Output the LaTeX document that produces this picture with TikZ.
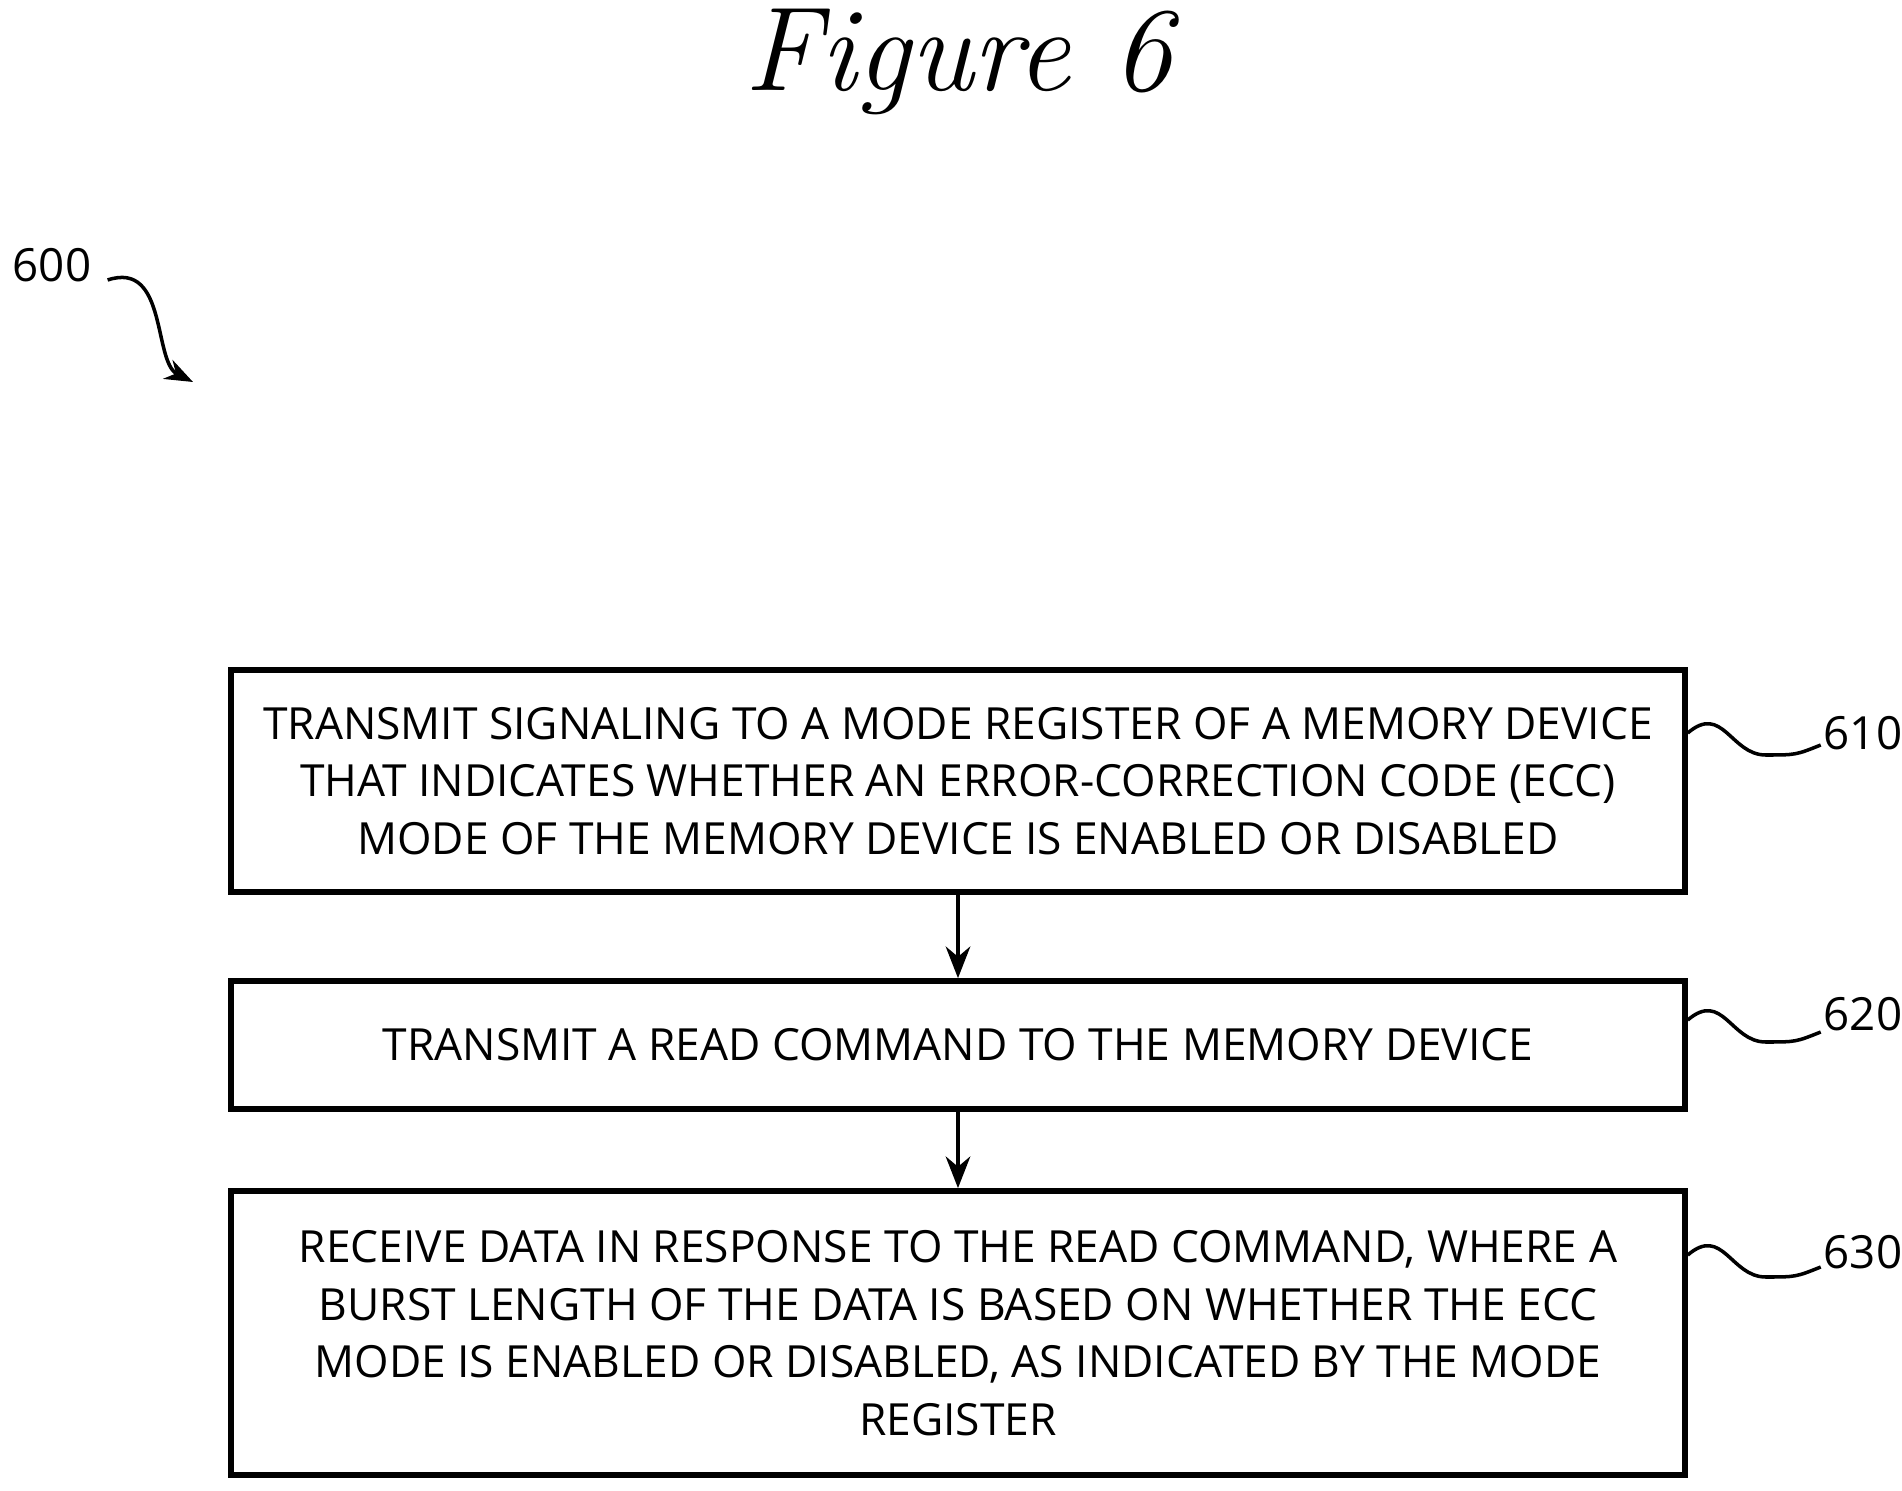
\documentclass[tikz,border=0pt]{standalone}
\usepackage{fontspec}
\setmainfont{Open Sans}
\newfontfamily\titlefont{Latin Modern Roman}
\usetikzlibrary{arrows.meta}
\begin{document}
\begin{tikzpicture}[x=0.01cm,y=-0.01cm,
  stepbox/.style={draw=black,line width=1.6pt,minimum width=14.53cm,align=center,font=\fontsize{12.6}{16.4}\selectfont,inner sep=0pt},
  flow/.style={draw=black,line width=1pt,-{Stealth[length=9pt,width=7pt]}},
  lead/.style={draw=black,line width=1pt},
  refnum/.style={font=\fontsize{13}{16}\selectfont}]

\useasboundingbox (0,0) rectangle (1902,1491);

\node (title) at (958,62) {\titlefont\itshape\fontsize{34}{34}\selectfont Figure 6};

%600
\node[refnum] (l600) at (52,265) {600};
\coordinate (a600) at (193,382);
\draw[lead,-{Stealth[length=8pt,width=6pt]}] (l600.east) ++(4,15) .. controls +(60,-20) and +(-40,-20) .. (a600);

%610
\node[stepbox,minimum height=2.22cm] (s610) at (958,781) {TRANSMIT SIGNALING TO A MODE REGISTER OF A MEMORY DEVICE\\THAT INDICATES WHETHER AN ERROR-CORRECTION CODE (ECC)\\MODE OF THE MEMORY DEVICE IS ENABLED OR DISABLED};
\node[refnum] (l610) at (1863,733) {610};
\draw[lead] (s610.east) ++(0,-48) .. controls +(35,-30) and +(-35,0) .. ++(78,22) .. controls +(30,0) .. ++(55,-10);

%620
\node[stepbox,minimum height=1.28cm] (s620) at (958,1045) {TRANSMIT A READ COMMAND TO THE MEMORY DEVICE};
\node[refnum] (l620) at (1863,1014) {620};
\draw[lead] (s620.east) ++(0,-25) .. controls +(35,-30) and +(-35,0) .. ++(78,22) .. controls +(30,0) .. ++(55,-10);

%630
\node[stepbox,minimum height=2.84cm] (s630) at (958,1333) {RECEIVE DATA IN RESPONSE TO THE READ COMMAND, WHERE A\\BURST LENGTH OF THE DATA IS BASED ON WHETHER THE ECC\\MODE IS ENABLED OR DISABLED, AS INDICATED BY THE MODE\\REGISTER};
\node[refnum] (l630) at (1863,1252) {630};
\draw[lead] (s630.east) ++(0,-78) .. controls +(35,-30) and +(-35,0) .. ++(78,22) .. controls +(30,0) .. ++(55,-10);

\draw[flow] (s610) -- (s620);
\draw[flow] (s620) -- (s630);

\end{tikzpicture}
\end{document}
